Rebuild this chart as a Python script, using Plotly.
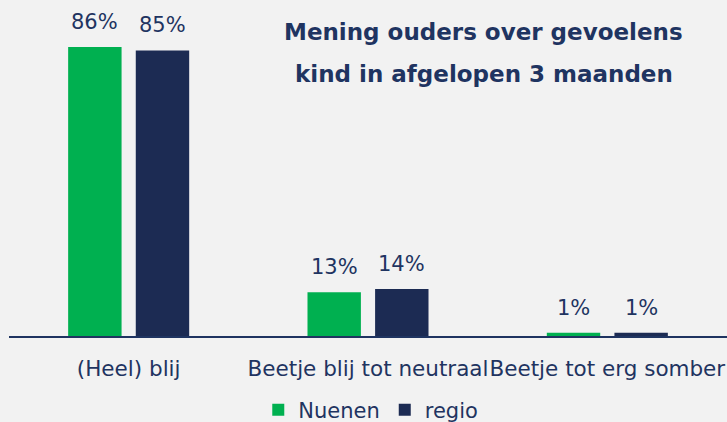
import plotly.graph_objects as go

categories = ["(Heel) blij", "Beetje blij tot neutraal", "Beetje tot erg somber"]
nuenen = [86, 13, 1]
regio = [85, 14, 1]
series_names = ["Nuenen", "regio"]
title_lines = ["Mening ouders over gevoelens", "kind in afgelopen 3 maanden"]

navy_text = "#1F3461"
font_family = "'DejaVu Sans', sans-serif"

fig = go.Figure()
fig.add_trace(go.Bar(
    x=categories, y=nuenen, name=series_names[0],
    marker=dict(color="#00B050", line=dict(width=0)),
))
fig.add_trace(go.Bar(
    x=categories, y=regio, name=series_names[1],
    marker=dict(color="#1C2B53", line=dict(width=0)),
))

bargap = 0.435
plot_w = 718
slot = plot_w / len(categories) * (1 - bargap) / 2
for vals, sgn in ((nuenen, -1), (regio, 1)):
    for c, v in zip(categories, vals):
        fig.add_annotation(
            x=c, y=v, xref="x", yref="y", text=f"{v}%", showarrow=False,
            xanchor="center", yanchor="bottom", xshift=sgn * slot / 2, yshift=11,
            font=dict(size=21, color=navy_text, family=font_family),
        )

fig.update_layout(
    width=727, height=422,
    paper_bgcolor="#F2F2F2", plot_bgcolor="#F2F2F2",
    margin=dict(l=9, r=0, t=0, b=86, autoexpand=False),
    barmode="group", bargap=bargap, bargroupgap=0.21,
    font=dict(family=font_family, color=navy_text),
    showlegend=True,
    legend=dict(orientation="h", x=0.51, xanchor="center", xref="container",
                y=0.028, yanchor="middle", yref="container",
                font=dict(size=21, color=navy_text), bgcolor="rgba(0,0,0,0)",
                itemwidth=30, tracegroupgap=0),
    xaxis=dict(showline=True, linecolor="#1F3461", linewidth=2, ticks="",
               tickangle=0, ticklabelstandoff=12,
               tickfont=dict(size=21.5, color=navy_text), showgrid=False),
    yaxis=dict(range=[0, 100], visible=False, showgrid=False),
)
for i, line in enumerate(title_lines):
    fig.add_annotation(
        text=f"<b>{line}</b>", xref="paper", yref="paper",
        x=(483.5 - 9) / plot_w, y=(336 - 32 - i * 42) / 336,
        xanchor="center", yanchor="middle", showarrow=False,
        font=dict(size=23, color=navy_text, family=font_family),
    )
fig.write_html("out.html", config={"displayModeBar": False},
               post_script="document.body.style.margin='0px';")
